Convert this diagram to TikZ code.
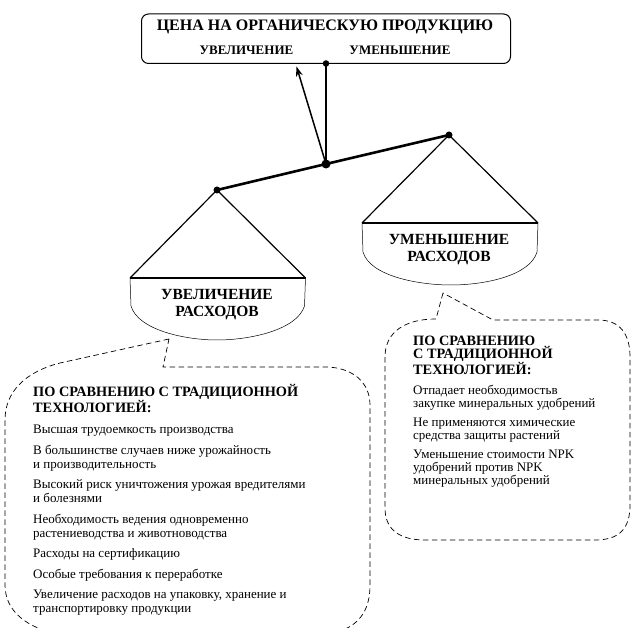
\documentclass[tikz,border=0pt]{standalone}
\usepackage{fontspec}
\setmainfont{Liberation Serif}
\usetikzlibrary{arrows.meta}
\newcommand\hdline[1]{{\bfseries\fontsize{14.3}{14}\selectfont #1}}
\tikzset{
	beam/.style={line width=2.6pt},
	pan/.style={line width=1.2pt},
	bowl/.style={line width=0.5pt},
	callout/.style={line width=0.7pt,dash pattern=on 5.5pt off 3.5pt},
	hinge/.style={circle,fill=black,inner sep=0pt,minimum size=#1},
	capt/.style={font=\bfseries\fontsize{15.5}{17}\selectfont,align=center},
	body/.style={font=\fontsize{13}{#1}\selectfont,align=left,inner sep=0pt,anchor=north west},
}
\begin{document}
	\begin{tikzpicture}[x=1pt,y=-1pt]
		\useasboundingbox (0,0) rectangle (641,628);
		% top box
		\draw[line width=1pt,rounded corners=7pt] (141.5,14) rectangle (510.5,63.5);
		\node[font=\bfseries\fontsize{16}{17}\selectfont] (title) at (325,27) {ЦЕНА НА ОРГАНИЧЕСКУЮ ПРОДУКЦИЮ};
		\node[font=\bfseries\fontsize{13}{15}\selectfont] (incr) at (246.5,50) {УВЕЛИЧЕНИЕ};
		\node[font=\bfseries\fontsize{13}{15}\selectfont] (decr) at (400,50) {УМЕНЬШЕНИЕ};
		% beam and hinges
		\node[hinge=6.5pt] (top) at (326,63.5) {};
		\node[hinge=9pt] (mid) at (326,164) {};
		\node[hinge=7pt] (lpiv) at (217,190) {};
		\node[hinge=7pt] (rpiv) at (449,135) {};
		\coordinate (tip) at (296.5,66.5);
		\draw[beam] (lpiv.center) -- (mid.center) -- (rpiv.center);
		\draw[line width=2pt] (mid.center) -- (top.center);
		\draw[line width=1.5pt,-{Stealth[length=10pt,width=7pt]}] (mid.center) -- (tip);
		% left pan
		\draw[pan] (130,278) -- (lpiv.center) -- (305.5,278);
		\draw[line width=1.8pt] (130,278) -- (305.5,278);
		\draw[bowl] (130,278) -- (131,306) .. controls (138,330) and (185,340) .. (217,340)
			.. controls (250,340) and (297,330) .. (304.5,306) -- (305.5,278);
		\node[capt] (lpan) at (217,305) {УВЕЛИЧЕНИЕ\\РАСХОДОВ};
		% right pan
		\draw[pan] (362,223) -- (rpiv.center) -- (538,223);
		\draw[line width=1.8pt] (362,223) -- (538,223);
		\draw[bowl] (362,223) -- (363,252) .. controls (370,276) and (418,285) .. (451,285)
			.. controls (484,285) and (530,276) .. (537,252) -- (538,223);
		\node[capt] (rpan) at (449,250) {УМЕНЬШЕНИЕ\\РАСХОДОВ};
		% left callout
		\coordinate (ltail) at (169,339);
		\draw[callout] (ltail) -- (60,363) .. controls (25,372) and (5,392) .. (5,420) -- (5,585)
			.. controls (5,612) and (28,628) .. (58,634) -- (330,634)
			.. controls (358,628) and (370,612) .. (370,585) -- (370,405)
			.. controls (370,382) and (352,367) .. (325,367) -- (163,367) -- cycle;
		\node[body=14] (lnote) at (33,384) {\hdline{ПО СРАВНЕНИЮ С ТРАДИЦИОННОЙ}\\
			\hdline{ТЕХНОЛОГИЕЙ:}\\[7pt]
			Высшая трудоемкость производства\\[6.5pt]
			В большинстве случаев ниже урожайность\\и производительность\\[6.5pt]
			Высокий риск уничтожения урожая вредителями\\и болезнями\\[6.5pt]
			Необходимость ведения одновременно\\растениеводства и животноводства\\[6.5pt]
			Расходы на сертификацию\\[6.5pt]
			Особые требования к переработке\\[6.5pt]
			Увеличение расходов на упаковку, хранение и\\транспортировку продукции};
		% right callout
		\coordinate (rtail) at (443,293);
		\draw[callout] (rtail) -- (436,319) .. controls (405,319) and (385,332) .. (385,357) -- (385,508)
			.. controls (385,530) and (400,540) .. (425,540) -- (595,540)
			.. controls (620,540) and (630,528) .. (630,505) -- (630,357)
			.. controls (630,334) and (620,320) .. (598,320) -- (493,320) -- cycle;
		\node[body=13] (rnote) at (413,336) {\hdline{ПО СРАВНЕНИЮ}\\
			\hdline{С ТРАДИЦИОННОЙ}\\
			\hdline{ТЕХНОЛОГИЕЙ:}\\[7pt]
			Отпадает необходимостьв\\закупке минеральных удобрений\\[6pt]
			Не применяются химические\\средства защиты растений\\[6pt]
			Уменьшение стоимости NPK\\удобрений против NPK\\минеральных удобрений};
	\end{tikzpicture}
\end{document}
